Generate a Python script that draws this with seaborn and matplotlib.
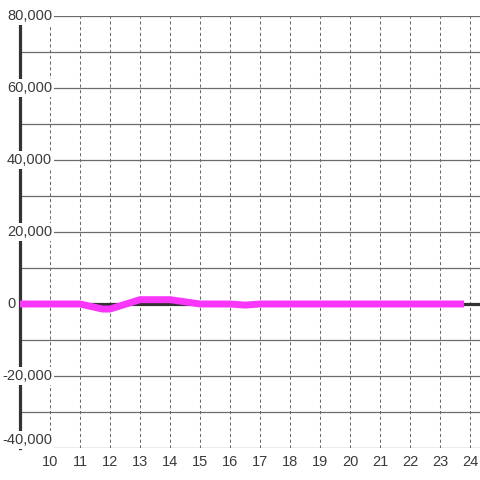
import matplotlib
matplotlib.use("Agg")
import matplotlib.pyplot as plt
import matplotlib.transforms as mtransforms
import seaborn as sns
import pandas as pd

# values
hours = [9, 10, 11, 11.75, 12, 13, 14, 15, 16, 16.5, 17, 18, 19, 20, 21, 22, 23, 23.8]
values = [0, 0, 0, -1400, -1400, 1200, 1200, 0, 0, -300, 0, 0, 0, 0, 0, 0, 0, 0]
x_ticks = list(range(10, 25))
y_labels = [-40000, -20000, 0, 20000, 40000, 60000, 80000]
y_grid = list(range(-40000, 80001, 10000))

df = pd.DataFrame({"hour": hours, "value": values})

sns.set_style("white")
plt.rcParams["font.family"] = ["Liberation Sans", "DejaVu Sans"]

fig = plt.figure(figsize=(4.8, 4.8), dpi=100)
ax = fig.add_axes([20 / 480, 32 / 480, 460 / 480, 432 / 480])

# grid
for v in y_grid:
    ax.axhline(v, color="#6b6b6b", lw=0.9, zorder=1)
for h in x_ticks:
    ax.axvline(h, color="#6b6b6b", lw=0.75, ls=(0, (3, 2.5)), zorder=1)

# zero line
ax.axhline(0, color="#333333", lw=2.3, zorder=2)

sns.lineplot(data=df, x="hour", y="value", color="#f936f9", linewidth=5,
             solid_capstyle="butt", ax=ax, zorder=6, legend=False)

ax.set_xlim(9, 24.33)
ax.set_ylim(-40000, 80000)

for s in ["top", "right", "bottom"]:
    ax.spines[s].set_visible(False)
ax.spines["left"].set_color("#333333")
ax.spines["left"].set_linewidth(2.3)
ax.spines["left"].set_zorder(2.6)

ax.set_xticks(x_ticks)
ax.set_xticklabels([str(h) for h in x_ticks])
ax.set_yticks([])
ax.tick_params(axis="x", length=0, pad=5, labelsize=10.5, labelcolor="#3a3a3a")
ax.set_xlabel("")
ax.set_ylabel("")

# y labels sit over the axis with a white box
trans = mtransforms.blended_transform_factory(fig.transFigure, ax.transData)
for v in y_labels:
    off = 2200 if v == -40000 else 0
    if v == 0:
        ax.text(16 / 480, v, "0", transform=trans, ha="right", va="center",
                fontsize=10.5, color="#3a3a3a", zorder=5, clip_on=False)
        continue
    ax.text(52 / 480, v + off, f"{v:,}", transform=trans, ha="right", va="center",
            fontsize=10.5, color="#3a3a3a", zorder=5, clip_on=False,
            bbox=dict(facecolor="white", edgecolor="none", pad=1.5))

fig.savefig("out.png", dpi=100, facecolor="white")
